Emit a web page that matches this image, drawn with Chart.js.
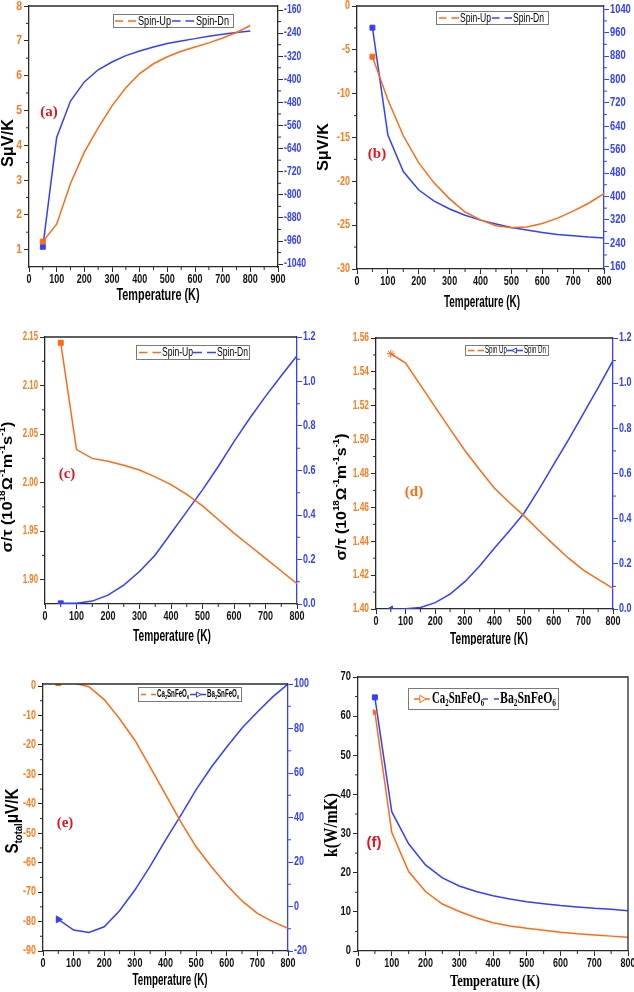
<!DOCTYPE html>
<html>
<head>
<meta charset="utf-8">
<script src="https://cdn.jsdelivr.net/npm/chart.js@4.4.0/dist/chart.umd.min.js"></script>
<style>
html, body { margin: 0; padding: 0; background: #fff; }
#wrap { position: relative; width: 634px; height: 992px; overflow: hidden; }
canvas { position: absolute; }
</style>
</head>
<body>
<div id="wrap">
  <canvas id="pa" width="317" height="305" style="left:0;top:0"></canvas>
  <canvas id="pb" width="317" height="312" style="left:317px;top:0"></canvas>
  <canvas id="pc" width="335" height="325" style="left:0;top:320px"></canvas>
  <canvas id="pd" width="317" height="325" style="left:317px;top:320px"></canvas>
  <canvas id="pe" width="317" height="352" style="left:0;top:640px"></canvas>
  <canvas id="pf" width="317" height="352" style="left:317px;top:640px"></canvas>
</div>
<script>
// temperatures (K), same for every panel
const temps = [50, 100, 150, 200, 250, 300, 350, 400, 450, 500, 550, 600, 650, 700, 750, 800];

// (a) Seebeck, Spin-Up (left) / Spin-Dn (right)
const aSpinUp = [1.23, 1.73, 2.90, 3.80, 4.50, 5.13, 5.65, 6.06, 6.34, 6.54, 6.70, 6.82, 6.94, 7.08, 7.24, 7.44];
const aSpinDn = [-980, -601, -475, -409, -367, -340, -318, -302, -288, -276, -267, -259, -251, -244, -238, -233];
// (b)
const bSpinUp = [-5.78, -10.7, -14.8, -17.9, -20.2, -22.0, -23.5, -24.4, -25.06, -25.3, -25.2, -24.8, -24.2, -23.4, -22.5, -21.4];
const bSpinDn = [977, 610, 485, 422, 384, 357, 336, 319, 306, 294, 285, 277, 270, 266, 261, 258];
// (c) sigma/tau
const cSpinUp = [2.144, 2.034, 2.025, 2.022, 2.018, 2.013, 2.006, 1.998, 1.988, 1.976, 1.962, 1.948, 1.935, 1.922, 1.909, 1.896];
const cSpinDn = [0.003, 0.003, 0.013, 0.040, 0.085, 0.146, 0.220, 0.318, 0.415, 0.513, 0.618, 0.730, 0.835, 0.933, 1.026, 1.116];
// (d)
const dSpinUp = [1.5507, 1.5452, 1.5322, 1.5192, 1.5062, 1.4936, 1.4822, 1.4713, 1.4629, 1.4550, 1.4463, 1.4380, 1.4300, 1.4230, 1.4175, 1.4122];
const dSpinDn = [0, 0.0015, 0.007, 0.028, 0.066, 0.121, 0.19, 0.27, 0.345, 0.425, 0.53, 0.64, 0.75, 0.865, 0.98, 1.10];
// (e) S total
const eCa = [1.0, 1.0, -0.2, -4.6, -11.1, -18.4, -27.5, -36.8, -46.1, -54.6, -61.4, -67.6, -73.0, -77.2, -80.0, -82.3];
const eBa = [-5.8, -10.6, -11.7, -9.1, -1.9, 7.4, 18.1, 29.8, 41.0, 52.5, 62.7, 71.7, 80.2, 87.4, 94.2, 100];
// (f) thermal conductivity
const fCa = [61.0, 30.3, 20.3, 15.2, 12.0, 10.1, 8.5, 7.2, 6.4, 5.8, 5.3, 4.8, 4.4, 4.1, 3.8, 3.5];
const fBa = [64.8, 35.6, 27.4, 22.0, 18.7, 16.6, 15.2, 14.1, 13.3, 12.6, 12.1, 11.6, 11.25, 10.9, 10.65, 10.3];

// tick labels
const xTicks900 = [0, 100, 200, 300, 400, 500, 600, 700, 800, 900];
const xTicks800 = [0, 100, 200, 300, 400, 500, 600, 700, 800];
const aLeftTicks = [1, 2, 3, 4, 5, 6, 7, 8];
const aRightTicks = [-1040, -960, -880, -800, -720, -640, -560, -480, -400, -320, -240, -160];
const bLeftTicks = [-30, -25, -20, -15, -10, -5, 0];
const bRightTicks = [160, 240, 320, 400, 480, 560, 640, 720, 800, 880, 960, 1040];
const cLeftTicks = [1.90, 1.95, 2.00, 2.05, 2.10, 2.15];
const sigRightTicks = [0, 0.2, 0.4, 0.6, 0.8, 1.0, 1.2];
const dLeftTicks = [1.40, 1.42, 1.44, 1.46, 1.48, 1.50, 1.52, 1.54, 1.56];
const eLeftTicks = [-90, -80, -70, -60, -50, -40, -30, -20, -10, 0];
const eRightTicks = [-20, 0, 20, 40, 60, 80, 100];
const fLeftTicks = [0, 10, 20, 30, 40, 50, 60, 70];

const OR = '#FF6A14';
const OR_T = '#FF7A1C';
const BL = '#3140FF';
const RED = '#E3141C';
const FRAME = '#2a2a2a';
const SANS = '"Liberation Sans", Arial, sans-serif';
const SERIF = '"Liberation Serif", "Times New Roman", serif';

function parseRich(s) {
  const out = [];
  let i = 0, buf = '';
  while (i < s.length) {
    const c = s[i];
    if ((c === '_' || c === '^') && s[i + 1] === '{') {
      if (buf) out.push({ t: buf, m: 0 });
      buf = '';
      const j = s.indexOf('}', i);
      out.push({ t: s.slice(i + 2, j), m: c === '_' ? 1 : 2 });
      i = j + 1;
    } else { buf += c; i++; }
  }
  if (buf) out.push({ t: buf, m: 0 });
  return out;
}

// text with _{sub} / ^{sup}, optionally squeezed to width w or by factor sx
function drawRich(ctx, o) {
  const parts = parseRich(o.text);
  const font = m => `${o.weight || 'normal'} ${m ? o.size * 0.62 : o.size}px ${o.family || SANS}`;
  ctx.save();
  let w = 0;
  parts.forEach(p => { ctx.font = font(p.m); p.w = ctx.measureText(p.t).width; w += p.w; });
  const sx = o.w ? o.w / w : (o.sx || 1);
  ctx.translate(o.x, o.y);
  if (o.rotate) ctx.rotate(-Math.PI / 2);
  ctx.scale(sx, 1);
  let x = o.align === 'left' ? 0 : (o.align === 'right' ? -w : -w / 2);
  ctx.fillStyle = o.color || '#000';
  ctx.textBaseline = 'middle';
  ctx.textAlign = 'left';
  parts.forEach(p => {
    ctx.font = font(p.m);
    const dy = p.m === 1 ? o.size * 0.3 : (p.m === 2 ? -o.size * 0.35 : 0);
    ctx.fillText(p.t, x, dy);
    x += p.w;
  });
  ctx.restore();
}

function drawMark(ctx, style, x, y, r, rot, color, fill) {
  ctx.save();
  ctx.translate(x, y);
  ctx.rotate((rot || 0) * Math.PI / 180);
  ctx.fillStyle = fill || color;
  ctx.strokeStyle = color;
  ctx.lineWidth = 1;
  ctx.beginPath();
  if (style === 'rect') {
    ctx.rect(-r, -r, 2 * r, 2 * r);
    ctx.fill();
  } else if (style === 'triangle') {
    const k = r * 1.2;
    ctx.moveTo(0, -k);
    ctx.lineTo(k * 0.87, k * 0.5);
    ctx.lineTo(-k * 0.87, k * 0.5);
    ctx.closePath();
    ctx.fill();
    ctx.stroke();
  } else if (style === 'star') {
    for (let i = 0; i < 10; i++) {
      const a = -Math.PI / 2 + i * Math.PI / 5, q = i % 2 ? r * 0.45 : r * 1.2;
      ctx.lineTo(Math.cos(a) * q, Math.sin(a) * q);
    }
    ctx.closePath();
    ctx.fill();
  }
  ctx.restore();
}

function drawLegend(ctx, L) {
  const [bx, by, bw, bh] = L.box;
  ctx.save();
  ctx.fillStyle = '#fff';
  ctx.fillRect(bx, by, bw, bh);
  ctx.strokeStyle = '#7a7a7a';
  ctx.lineWidth = 1;
  ctx.strokeRect(bx + 0.5, by + 0.5, bw, bh);
  const cy = by + bh / 2 + 0.5;
  L.items.forEach(it => {
    ctx.strokeStyle = it.color;
    ctx.lineWidth = 1.5;
    ctx.beginPath();
    ctx.moveTo(it.line[0], cy);
    ctx.lineTo(it.line[1], cy);
    ctx.stroke();
    drawMark(ctx, it.style, (it.line[0] + it.line[1]) / 2, cy, it.r || 2.5, it.rot, it.color, it.fill);
    drawRich(ctx, { text: it.text, x: it.tx, y: cy, size: L.size, family: L.family, weight: L.weight, w: it.w, align: 'left' });
  });
  ctx.restore();
}

// frame top/right edge, minor ticks, tick labels, titles and legend
const decor = {
  id: 'decor',
  afterDraw(chart, args, o) {
    const ctx = chart.ctx, a = chart.chartArea;
    ctx.save();
    ctx.strokeStyle = FRAME;
    ctx.lineWidth = 1.3;
    ctx.beginPath();
    ctx.moveTo(a.left, a.top);
    ctx.lineTo(a.right, a.top);
    if (o.rightFrame) ctx.lineTo(a.right, a.bottom);
    ctx.stroke();
    Object.values(chart.scales).forEach(s => {
      const t = s.ticks.map(k => k.value);
      ctx.strokeStyle = s.options.grid.color;
      ctx.lineWidth = 1;
      ctx.beginPath();
      for (let i = 0; i < t.length - 1; i++) {
        const p = s.getPixelForValue((t[i] + t[i + 1]) / 2);
        if (s.isHorizontal()) { ctx.moveTo(p, s.top); ctx.lineTo(p, s.top + 3); }
        else if (s.position === 'left') { ctx.moveTo(s.right, p); ctx.lineTo(s.right - 3, p); }
        else { ctx.moveTo(s.left, p); ctx.lineTo(s.left + 3, p); }
      }
      ctx.stroke();
      const lab = o.labels[s.id];
      s.ticks.forEach(k => {
        const p = s.getPixelForValue(k.value);
        const txt = Number(k.value).toFixed(lab.dec);
        const base = { text: txt, size: lab.size || 12, family: SANS, weight: 'bold', sx: lab.sx, color: lab.color };
        if (s.isHorizontal()) drawRich(ctx, Object.assign(base, { x: p, y: s.top + 13 }));
        else if (s.position === 'left') drawRich(ctx, Object.assign(base, { x: s.right - 7, y: p, align: 'right' }));
        else drawRich(ctx, Object.assign(base, { x: s.left + 6, y: p, align: 'left' }));
      });
    });
    ctx.restore();
    (o.texts || []).forEach(t => drawRich(ctx, t));
    if (o.legend) drawLegend(ctx, o.legend);
  }
};

function xAxis(ticksArr, max, height) {
  return {
    type: 'linear', position: 'bottom', min: 0, max: max,
    afterBuildTicks: s => { s.ticks = ticksArr.map(v => ({ value: v })); },
    afterFit: s => { s.height = height; },
    border: { color: FRAME, width: 1.3 },
    grid: { drawOnChartArea: false, tickLength: 5, color: FRAME },
    ticks: { display: false }
  };
}

function yAxis(pos, min, max, ticksArr, width, frame) {
  return {
    type: 'linear', position: pos, min: min, max: max,
    afterBuildTicks: s => { s.ticks = ticksArr.map(v => ({ value: v })); },
    afterFit: s => { s.width = width; },
    border: { color: frame, width: 1.3 },
    grid: { drawOnChartArea: false, tickLength: 5, color: frame },
    ticks: { display: false }
  };
}

function series(label, vals, axis, color, style, rot, r) {
  return {
    label: label,
    data: temps.map((t, i) => ({ x: t, y: vals[i] })),
    yAxisID: axis,
    borderColor: color,
    backgroundColor: color,
    borderWidth: 1.5,
    pointStyle: style,
    pointRotation: rot || 0,
    pointRadius: temps.map((t, i) => (i === 0 ? (r || 3.5) : 0)),
    pointBorderWidth: 1,
    tension: 0
  };
}

function makeChart(id, datasets, scales, padTop, padRight, decorOpts) {
  return new Chart(document.getElementById(id), {
    type: 'line',
    data: { datasets: datasets },
    options: {
      responsive: false,
      animation: false,
      layout: { padding: { top: padTop, right: padRight, left: 0, bottom: 0 } },
      scales: scales,
      plugins: { legend: { display: false }, tooltip: { enabled: false }, decor: decorOpts }
    },
    plugins: [decor]
  });
}

function spinItems(l1, t1, l2, t2, w, s1, s2, r1, r2, upText, dnText) {
  return [
    { text: upText || 'Spin-Up', color: OR, style: s1 || 'rect', rot: r1 || 0, line: l1, tx: t1, w: w },
    { text: dnText || 'Spin-Dn', color: BL, style: s2 || 'rect', rot: r2 || 0, line: l2, tx: t2, w: w }
  ];
}

const xLab = { dec: 0, sx: 0.75, color: '#111' };

// (a)
makeChart('pa',
  [series('Spin-Up', aSpinUp, 'yL', OR, 'rect'), series('Spin-Dn', aSpinDn, 'yR', BL, 'rect')],
  { x: xAxis(xTicks900, 900, 38),
    yL: yAxis('left', 0.5, 8, aLeftTicks, 29, FRAME),
    yR: yAxis('right', -1050, -146, aRightTicks, 39, FRAME) },
  6, 0,
  { labels: { x: xLab, yL: { dec: 0, sx: 0.8, color: OR_T, size: 13 }, yR: { dec: 0, sx: 0.72, color: BL } },
    texts: [
      { text: 'SμV/K', x: 8, y: 143, size: 17, family: SANS, weight: 'bold', rotate: true, w: 48 },
      { text: 'Temperature (K)', x: 158, y: 295, size: 17, family: SANS, weight: 'bold', w: 83 },
      { text: '(a)', x: 49, y: 112, size: 15, family: SERIF, weight: 'bold', color: RED }
    ],
    legend: { box: [113, 14, 120, 13], size: 13, family: SANS, weight: 'normal',
      items: spinItems([115, 136], 138, [172, 194], 196, 33) } });

// (b)
makeChart('pb',
  [series('Spin-Up', bSpinUp, 'yL', OR, 'rect'), series('Spin-Dn', bSpinDn, 'yR', BL, 'rect')],
  { x: xAxis(xTicks800, 800, 43),
    yL: yAxis('left', -30, 0, bLeftTicks, 40, FRAME),
    yR: yAxis('right', 152, 1051, bRightTicks, 30, BL) },
  6, 0,
  { labels: { x: xLab, yL: { dec: 0, sx: 0.75, color: OR_T }, yR: { dec: 0, sx: 0.78, color: BL } },
    texts: [
      { text: 'SμV/K', x: 6, y: 147, size: 17, family: SANS, weight: 'bold', rotate: true, w: 48 },
      { text: 'Temperature (K)', x: 165, y: 302, size: 17, family: SANS, weight: 'bold', w: 76 },
      { text: '(b)', x: 60, y: 154, size: 15, family: SERIF, weight: 'bold', color: RED }
    ],
    legend: { box: [119, 11, 112, 13], size: 13, family: SANS, weight: 'normal',
      items: spinItems([122, 142], 143, [175, 195], 196, 31) } });

// (c)
makeChart('pc',
  [series('Spin-Up', cSpinUp, 'yL', OR, 'rect'), series('Spin-Dn', cSpinDn, 'yR', BL, 'rect')],
  { x: xAxis(xTicks800, 800, 41),
    yL: yAxis('left', 1.875, 2.15, cLeftTicks, 45, FRAME),
    yR: yAxis('right', 0, 1.2, sigRightTicks, 38, BL) },
  17, 0,
  { labels: { x: xLab, yL: { dec: 2, sx: 0.65, color: OR_T }, yR: { dec: 1, sx: 0.75, color: BL } },
    texts: [
      { text: 'σ/τ (10^{18}Ω^{-1}m^{-1}s^{-1})', x: 8, y: 167, size: 15, family: SANS, weight: 'bold', rotate: true, w: 131 },
      { text: 'Temperature (K)', x: 172, y: 316, size: 17, family: SANS, weight: 'bold', w: 78 },
      { text: '(c)', x: 67, y: 154, size: 15, family: SERIF, weight: 'bold', color: RED }
    ],
    legend: { box: [136, 25, 113, 14], size: 13, family: SANS, weight: 'normal',
      items: spinItems([139, 161], 162, [193, 216], 217, 31) } });

// (d)
makeChart('pd',
  [series('Spin Up', dSpinUp, 'yL', OR, 'star', 0, 4), series('Spin Dn', dSpinDn, 'yR', BL, 'triangle', -90, 3.5)],
  { x: xAxis(xTicks800, 800, 36),
    yL: yAxis('left', 1.40, 1.56, dLeftTicks, 59, FRAME),
    yR: yAxis('right', 0, 1.2, sigRightTicks, 21, BL) },
  18, 0,
  { labels: { x: xLab, yL: { dec: 2, sx: 0.7, color: OR_T }, yR: { dec: 1, sx: 0.75, color: BL } },
    texts: [
      { text: 'σ/τ (10^{18}Ω^{-1}m^{-1}s^{-1})', x: 25, y: 177, size: 15, family: SANS, weight: 'bold', rotate: true, w: 127 },
      { text: 'Temperature (K)', x: 172, y: 319, size: 17, family: SANS, weight: 'bold', w: 78 },
      { text: '(d)', x: 97, y: 172, size: 15, family: SERIF, weight: 'bold', color: OR }
    ],
    legend: { box: [148, 25, 83, 10], size: 10, family: SANS, weight: 'normal',
      items: spinItems([151, 167], 168, [190, 206], 207, 22, 'star', 'triangle', 0, -90, 'Spin Up', 'Spin Dn') } });

// (e)
makeChart('pe',
  [series('Ca2SnFeO6', eCa, 'yL', OR, 'rect'), series('Ba2SnFeO6', eBa, 'yR', BL, 'triangle', 90, 4)],
  { x: xAxis(xTicks800, 800, 41),
    yL: yAxis('left', -90, 0.7, eLeftTicks, 43, FRAME),
    yR: yAxis('right', -20, 100, eRightTicks, 29, BL) },
  44, 0,
  { labels: { x: xLab, yL: { dec: 0, sx: 0.75, color: OR_T }, yR: { dec: 0, sx: 0.75, color: BL } },
    texts: [
      { text: 'S_{total}μV/K', x: 13, y: 181, size: 19, family: SANS, weight: 'bold', rotate: true, w: 65 },
      { text: 'Temperature (K)', x: 170, y: 340, size: 17, family: SANS, weight: 'bold', w: 75 },
      { text: '(e)', x: 65, y: 183, size: 15, family: SERIF, weight: 'bold', color: RED }
    ],
    legend: { box: [138, 47, 103, 14], size: 10, family: SANS, weight: 'bold',
      items: [
        { text: 'Ca_{2}SnFeO_{6}', color: OR, style: 'rect', line: [141, 156], tx: 157, w: 32 },
        { text: 'Ba_{2}SnFeO_{6}', color: BL, style: 'triangle', rot: 90, line: [190, 206], tx: 207, w: 32 }
      ] } });

// (f)
makeChart('pf',
  [series('Ca2SnFeO6', fCa, 'yL', OR, 'triangle', 90, 3), series('Ba2SnFeO6', fBa, 'yL', BL, 'rect')],
  { x: xAxis(xTicks800, 800, 41),
    yL: yAxis('left', 0, 70, fLeftTicks, 41, FRAME) },
  37, 6,
  { rightFrame: true,
    labels: { x: xLab, yL: { dec: 0, sx: 0.78, color: '#111' } },
    texts: [
      { text: 'k(W/mK)', x: 15, y: 185, size: 18, family: SERIF, weight: 'bold', rotate: true, w: 64 },
      { text: 'Temperature (K)', x: 178, y: 342, size: 17, family: SERIF, weight: 'bold', w: 90 },
      { text: '(f)', x: 57, y: 203, size: 15, family: SANS, weight: 'bold', color: RED }
    ],
    legend: { box: [91, 48, 150, 21], size: 16, family: SERIF, weight: 'bold',
      items: [
        { text: 'Ca_{2}SnFeO_{6}', color: OR, style: 'triangle', rot: 90, fill: '#fff', r: 3.5, line: [97, 113], tx: 115, w: 52 },
        { text: 'Ba_{2}SnFeO_{6}', color: BL, style: 'rect', r: 3, line: [166, 182], tx: 183, w: 56 }
      ] } });
</script>
</body>
</html>
